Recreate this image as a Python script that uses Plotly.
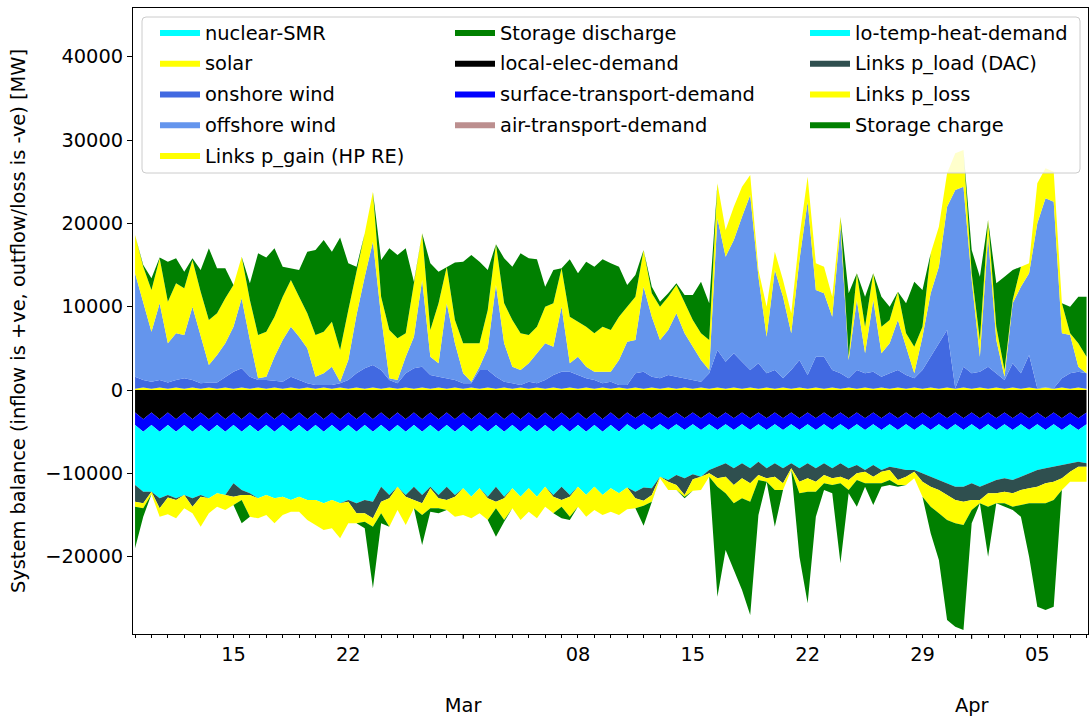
import pandas as pd
import plotly.graph_objects as go

# 12-hourly time stamps (2021-02-09 00:00 .. 2021-04-08 00:00)
times = pd.date_range("2021-02-09 00:00", periods=117, freq="12h")

# ---------------- positive (inflow) series [MW] ----------------
nuclear_smr = [
    0, 0, 0, 0, 0, 0, 0, 0, 0, 0, 0, 0, 0, 0, 0, 0, 0, 0, 0, 0,
    0, 0, 0, 0, 0, 0, 0, 0, 0, 0, 0, 0, 0, 0, 0, 0, 0, 0, 0, 0,
    0, 0, 0, 0, 0, 0, 0, 0, 0, 0, 0, 0, 0, 0, 0, 0, 0, 0, 0, 0,
    0, 0, 0, 0, 0, 0, 0, 0, 0, 0, 0, 0, 0, 0, 0, 0, 0, 0, 0, 0,
    0, 0, 0, 0, 0, 0, 0, 0, 0, 0, 0, 0, 0, 0, 0, 0, 0, 0, 0, 0,
    0, 0, 0, 0, 0, 0, 0, 0, 0, 0, 0, 0, 0, 0, 0, 0, 0,
]
solar = [
    150, 300, 150, 300, 150, 300, 150, 300, 150, 300,
    150, 300, 150, 300, 150, 300, 150, 300, 150, 300,
    150, 300, 150, 300, 150, 300, 150, 300, 150, 300,
    150, 300, 150, 300, 150, 300, 150, 300, 150, 300,
    150, 300, 150, 300, 150, 300, 150, 300, 150, 300,
    150, 300, 150, 300, 150, 300, 150, 300, 150, 300,
    150, 300, 150, 300, 150, 300, 150, 300, 150, 300,
    150, 300, 150, 300, 150, 300, 150, 300, 150, 300,
    150, 300, 150, 300, 150, 300, 150, 300, 150, 300,
    150, 300, 150, 300, 150, 300, 150, 300, 150, 300,
    150, 300, 150, 300, 150, 300, 150, 300, 150, 300,
    150, 300, 150, 300, 150, 300, 150,
]
onshore_wind = [
    1450, 900, 850, 900, 750, 900, 1250, 900, 650, 600,
    750, 1300, 2050, 2300, 1450, 900, 1050, 800, 850, 1300,
    1050, 500, 450, 300, 450, 500, 1050, 1700, 2450, 2700,
    2250, 900, 650, 1700, 2450, 2500, 1650, 1300, 1250, 900,
    650, 500, 2250, 2100, 1450, 700, 650, 300, 850, 500,
    1050, 1500, 2050, 1900, 1650, 1100, 1050, 500, 850, 300,
    450, 1700, 2050, 1300, 1250, 1500, 1450, 1100, 1050, 700,
    1850, 4500, 3250, 4100, 3250, 2100, 3050, 1700, 2250, 1100,
    2250, 3300, 1650, 3700, 3850, 2100, 1850, 1100, 2250, 1700,
    2050, 1300, 1850, 2100, 1650, 1100, 2250, 3700, 5450, 6900,
    50, 2500, 1850, 1900, 2650, 1700, 1050, 2900, 1850, 3900,
    50, 0, 50, 1100, 1850, 1900, 1850,
]
offshore_wind = [
    12400, 9200, 6000, 9200, 4700, 5600, 5200, 8800, 5600, 2100,
    3300, 4000, 5400, 8400, 4400, 200, 400, 2900, 5000, 6000,
    5200, 4200, 1000, 1400, 2200, 200, 2400, 7000, 11000, 14800,
    6400, 200, 400, 2000, 3800, 10400, 2200, 1600, 9000, 4400,
    1200, 200, 400, 2600, 11000, 4600, 2000, 1800, 2200, 3600,
    4400, 3400, 7800, 1000, 2200, 1400, 1000, 1400, 1200, 3000,
    5200, 4000, 10200, 7200, 4600, 5400, 7600, 5400, 4000, 2600,
    400, 15800, 12600, 13600, 17400, 21000, 10400, 4400, 12000, 9800,
    4400, 12000, 20800, 8000, 7600, 6400, 17600, 2200, 8400, 2400,
    8600, 2800, 3600, 6000, 3400, 600, 4000, 7600, 9200, 14800,
    23800, 21600, 11200, 1800, 15600, 4000, 400, 7200, 10400, 9800,
    19800, 22700, 22400, 5400, 4600, 600, 0,
]
links_p_gain = [
    4600, 4400, 5000, 5400, 5000, 6000, 5600, 5600, 5400, 5400,
    5000, 5400, 5000, 5000, 4800, 5200, 5400, 4800, 5200, 5600,
    4800, 4200, 5000, 5000, 5400, 3800, 6000, 5000, 5200, 6000,
    2400, 5800, 5000, 2800, 6600, 5600, 3200, 7200, 4400, 2800,
    3600, 4600, 2800, 4600, 4900, 4800, 5600, 4400, 3400, 3200,
    4400, 5200, 4600, 5600, 4200, 4800, 4600, 5400, 5000, 5200,
    4200, 5200, 4400, 2800, 4000, 4000, 3400, 3600, 3200, 3200,
    3600, 4200, 3200, 4000, 3600, 2400, 800, 3600, 2200, 2000,
    2400, 2800, 3000, 3200, 3200, 2400, 1200, 400, 3200, 3200,
    3200, 3200, 2800, 3400, 1600, 3200, 1200, 4800, 4800, 4000,
    4400, 4400, 800, 2000, 2000, 1600, 800, 400, 2400, 1200,
    4800, 3600, 3600, 3600, 200, 2800, 2000,
]
storage_discharge = [
    0, 200, 1400, 100, 4800, 3000, 2000, 200, 2600, 8600,
    5400, 3600, 0, 0, 2000, 9800, 8900, 8200, 3600, 1400,
    3200, 7400, 10200, 11000, 8400, 13500, 5600, 800, 0, 0,
    4400, 9800, 10000, 10200, 0, 0, 8000, 3800, 0, 6900,
    9800, 10600, 9800, 4800, 0, 5400, 6400, 9600, 9200, 8100,
    2400, 4000, 0, 6900, 5800, 7800, 8000, 8100, 8000, 6000,
    2600, 2600, 0, 800, 600, 400, 200, 1000, 3000, 6200,
    4400, 0, 0, 0, 0, 0, 0, 0, 0, 0,
    0, 0, 0, 0, 0, 0, 0, 7600, 0, 3600,
    0, 3600, 1600, 0, 3600, 7800, 4400, 0, 0, 0,
    0, 0, 2800, 7600, 0, 5200, 11200, 3600, 0, 0,
    0, 0, 0, 0, 3200, 5600, 7200,
]

# ---------------- negative (outflow / loss) series [MW] ----------------
local_elec_demand = [
    -2700, -3500, -2700, -3500, -2700, -3500, -2700, -3500, -2700, -3500,
    -2700, -3500, -2700, -3500, -2700, -3500, -2700, -3500, -2700, -3500,
    -2700, -3500, -2700, -3500, -2700, -3500, -2700, -3500, -2700, -3500,
    -2700, -3500, -2700, -3500, -2700, -3500, -2700, -3500, -2700, -3500,
    -2700, -3500, -2700, -3500, -2700, -3500, -2700, -3500, -2700, -3500,
    -2700, -3500, -2700, -3500, -2700, -3500, -2700, -3500, -2700, -3500,
    -2700, -3400, -2700, -3400, -2700, -3400, -2700, -3400, -2700, -3400,
    -2700, -3400, -2700, -3400, -2700, -3400, -2700, -3400, -2700, -3400,
    -2700, -3400, -2700, -3400, -2700, -3400, -2700, -3400, -2700, -3400,
    -2700, -3400, -2700, -3400, -2700, -3400, -2700, -3400, -2700, -3400,
    -2700, -3400, -2700, -3400, -2700, -3400, -2700, -3400, -2700, -3400,
    -2700, -3400, -2700, -3400, -2700, -3400, -2700,
]
surface_transport_demand = [
    -1500, -1500, -1500, -1500, -1500, -1500, -1500, -1500, -1500, -1500,
    -1500, -1500, -1500, -1500, -1500, -1500, -1500, -1500, -1500, -1500,
    -1500, -1500, -1500, -1500, -1500, -1500, -1500, -1500, -1500, -1500,
    -1500, -1500, -1500, -1500, -1500, -1500, -1500, -1500, -1500, -1500,
    -1500, -1500, -1500, -1500, -1500, -1500, -1500, -1500, -1500, -1500,
    -1500, -1500, -1500, -1500, -1500, -1500, -1500, -1500, -1500, -1500,
    -1400, -1400, -1400, -1400, -1400, -1400, -1400, -1400, -1400, -1400,
    -1400, -1400, -1400, -1400, -1400, -1400, -1400, -1400, -1400, -1400,
    -1400, -1400, -1400, -1400, -1400, -1400, -1400, -1400, -1400, -1400,
    -1400, -1400, -1400, -1400, -1400, -1400, -1400, -1400, -1400, -1400,
    -1400, -1400, -1400, -1400, -1400, -1400, -1400, -1400, -1400, -1400,
    -1400, -1400, -1400, -1400, -1400, -1400, -1400,
]
air_transport_demand = [
    0, 0, 0, 0, 0, 0, 0, 0, 0, 0, 0, 0, 0, 0, 0, 0, 0, 0, 0, 0,
    0, 0, 0, 0, 0, 0, 0, 0, 0, 0, 0, 0, 0, 0, 0, 0, 0, 0, 0, 0,
    0, 0, 0, 0, 0, 0, 0, 0, 0, 0, 0, 0, 0, 0, 0, 0, 0, 0, 0, 0,
    0, 0, 0, 0, 0, 0, 0, 0, 0, 0, 0, 0, 0, 0, 0, 0, 0, 0, 0, 0,
    0, 0, 0, 0, 0, 0, 0, 0, 0, 0, 0, 0, 0, 0, 0, 0, 0, 0, 0, 0,
    0, 0, 0, 0, 0, 0, 0, 0, 0, 0, 0, 0, 0, 0, 0, 0, 0,
]
lo_temp_heat_demand = [
    -7200, -7200, -8000, -8000, -8400, -8000, -8400, -8000, -8400, -8000,
    -8200, -7600, -7000, -7000, -8200, -8000, -8400, -8000, -8600, -8200,
    -8600, -8200, -9000, -8600, -9000, -8600, -9000, -8600, -9000, -8400,
    -7400, -7600, -7400, -7600, -7400, -7600, -7400, -7600, -7400, -7600,
    -7600, -7800, -7600, -7800, -7400, -7800, -7600, -7800, -7600, -7800,
    -7400, -7600, -7400, -7600, -7400, -7600, -7400, -7600, -7600, -7400,
    -7600, -7400, -7600, -7000, -6300, -6000, -6100, -5800, -6000, -5600,
    -5500, -4400, -4700, -4600, -4700, -4600, -4500, -4600, -4700, -4600,
    -4700, -4600, -4700, -4600, -4700, -4600, -4700, -4600, -4900, -4800,
    -4900, -4800, -5100, -4600, -5500, -4800, -5900, -5600, -6700, -6400,
    -7500, -6800, -7100, -6800, -7100, -6000, -6500, -6000, -6300, -5200,
    -5500, -4600, -5100, -4200, -4700, -3800, -4700,
]
links_p_load_dac = [
    -2000, -1400, 0, -1200, -300, -200, 0, -1000, -200, 0,
    0, 0, -1600, -600, -200, 0, 0, 0, 0, 0,
    0, 0, 0, 0, 0, 0, -200, -1200, -1600, -2000,
    -1800, -400, 0, -200, -1600, -1000, -200, -400, -1600, -200,
    0, 0, 0, -200, -1800, -200, 0, 0, 0, 0,
    0, -200, -1600, -200, 0, 0, 0, 0, 0, 0,
    0, -800, -1600, -800, 0, -200, -1200, -2000, -600, 0,
    -400, -1400, -1600, -2000, -1800, -1800, -1600, -1200, -1600, -1800,
    -600, -1600, -1800, -1600, -1400, -1200, -1600, -1400, -1000, -200,
    -1400, -200, -400, -1400, -800, -200, -1000, -1200, -1200, -1400,
    -1600, -1800, -2000, -1600, -1200, -1600, -1600, -1600, -1600, -1800,
    -2000, -1800, -1800, -1600, -1000, -600, -400,
]
links_p_loss = [
    -600, -600, -300, -1000, -2000, -2200, -1600, -800, -3600, -1800,
    -1600, -1800, -1000, -600, -2600, -2400, -2400, -3000, -2200, -1400,
    -1800, -2400, -3000, -3200, -3400, -4200, -2600, -1200, -1000, -1000,
    -1400, -3400, -2800, -3400, -1000, -1400, -2400, -1200, -1200, -2400,
    -3200, -2600, -3000, -2600, -800, -2600, -2400, -2800, -2800, -2600,
    -2400, -2000, -800, -2400, -2400, -2600, -2800, -2400, -2800, -2600,
    -2600, -1200, -600, -800, -200, -1000, -600, -200, -1400, -1600,
    -400, -1000, -2000, -2200, -2400, -2200, -600, -400, -1600, -800,
    -200, -1400, -1600, -1200, -1000, -800, -800, -1200, -800, -1400,
    -800, -1400, -1200, -600, -1000, -800, -1800, -2400, -2800, -3000,
    -2800, -2800, -1200, -400, -1600, -1200, -1400, -1600, -1800, -1800,
    -2000, -2400, -2200, -1400, -1200, -1800, -1800,
]
storage_charge = [
    -5000, -1000, 0, 0, 0, 0, 0, 0, 0, 0,
    0, 0, 0, -2800, 0, 0, 0, 0, 0, 0,
    0, 0, 0, 0, 0, 0, 0, 0, -800, -7400,
    -1200, 0, 0, 0, 0, -3600, -400, -600, 0, 0,
    0, 0, 0, 0, -3400, -200, 0, 0, 0, 0,
    0, 0, -1400, -400, 0, 0, 0, 0, 0, 0,
    0, 0, -2400, 0, 0, 0, 0, -200, 0, 0,
    0, -13200, -6800, -8000, -11000, -13600, -4200, 0, -4400, 0,
    0, -7600, -13400, -3000, -800, -1000, -9600, -400, -3200, -400,
    -2600, -400, -600, -200, 0, 0, 0, -3200, -5600, -12000,
    -12400, -12600, -1600, 0, -6000, 0, -400, -400, -1400, -6400,
    -12400, -12800, -12800, 0, 0, 0, 0,
]

# tick positions / labels
tick_dates = ["2021-02-15", "2021-02-22", "2021-03-01", "2021-03-08", "2021-03-15",
              "2021-03-22", "2021-03-29", "2021-04-01", "2021-04-05"]
tick_labels = ["15", "22", "<br><br>Mar", "08", "15", "22", "29", "<br><br>Apr", "05"]
month_starts = ["2021-03-01", "2021-04-01"]
y_ticks = [-20000, -10000, 0, 10000, 20000, 30000, 40000]
y_tick_labels = ["\u221220000", "\u221210000", "0", "10000", "20000", "30000", "40000"]

FONT = "DejaVu Sans"
FS = 19.4

pos_series = [
    ("nuclear-SMR", nuclear_smr, "#00FFFF", "legend"),
    ("solar", solar, "#FFFF00", "legend"),
    ("onshore wind", onshore_wind, "#4169E1", "legend"),
    ("offshore wind", offshore_wind, "#6495ED", "legend"),
    ("Links p_gain (HP RE)", links_p_gain, "#FFFF00", "legend"),
    ("Storage discharge", storage_discharge, "#008000", "legend2"),
]
neg_series = [
    ("local-elec-demand", local_elec_demand, "#000000", "legend2"),
    ("surface-transport-demand", surface_transport_demand, "#0000FF", "legend2"),
    ("air-transport-demand", air_transport_demand, "#BC8F8F", "legend2"),
    ("lo-temp-heat-demand", lo_temp_heat_demand, "#00FFFF", "legend3"),
    ("Links p_load (DAC)", links_p_load_dac, "#2F4F4F", "legend3"),
    ("Links p_loss", links_p_loss, "#FFFF00", "legend3"),
    ("Storage charge", storage_charge, "#008000", "legend3"),
]

fig = go.Figure()
for group, series in (("pos", pos_series), ("neg", neg_series)):
    for name, vals, col, leg in series:
        fig.add_trace(go.Scatter(
            x=times, y=vals, name=name, mode="lines",
            stackgroup=group, line=dict(width=0, color=col),
            fillcolor=col, legend=leg, legendgroup=name,
            hoverinfo="x+y+name",
        ))

W, H = 1089, 717
L, R, T, B = 133, 1, 8, 83
pw, ph = W - L - R, H - T - B


def px_x(p):
    return (p - L) / pw


def px_y(p):
    return (H - B - p) / ph


legend_common = dict(
    orientation="v", xanchor="left", yanchor="top",
    bgcolor="rgba(0,0,0,0)", borderwidth=0,
    font=dict(family=FONT, size=FS, color="black"),
    tracegroupgap=2.5, itemwidth=40, itemclick=False, itemdoubleclick=False,
)

# legend frame (rounded, semi-transparent like matplotlib)
fx0, fx1, fy0, fy1 = 142, 1080, 17, 173
rx, ry = 4 / pw, 4 / ph
x0, x1, y0, y1 = px_x(fx0), px_x(fx1), px_y(fy1), px_y(fy0)
frame_path = (
    f"M {x0 + rx},{y0} L {x1 - rx},{y0} Q {x1},{y0} {x1},{y0 + ry} "
    f"L {x1},{y1 - ry} Q {x1},{y1} {x1 - rx},{y1} "
    f"L {x0 + rx},{y1} Q {x0},{y1} {x0},{y1 - ry} "
    f"L {x0},{y0 + ry} Q {x0},{y0} {x0 + rx},{y0} Z"
)
shapes = [dict(type="path", xref="paper", yref="paper", path=frame_path,
               fillcolor="rgba(255,255,255,0.8)",
               line=dict(color="#cccccc", width=1), layer="above")]
for d in month_starts:
    shapes.append(dict(type="line", xref="x", yref="paper", x0=d, x1=d,
                       y0=0, y1=-5 / ph, line=dict(color="black", width=1)))

fig.update_layout(
    width=W, height=H,
    margin=dict(l=L, r=R, t=T, b=B, autoexpand=False),
    paper_bgcolor="white", plot_bgcolor="white",
    font=dict(family=FONT, size=FS, color="black"),
    showlegend=True,
    legend=dict(legend_common, x=px_x(155), y=px_y(13)),
    legend2=dict(legend_common, x=px_x(450), y=px_y(13)),
    legend3=dict(legend_common, x=px_x(805), y=px_y(13)),
    shapes=shapes,
    hovermode="x",
)
fig.update_xaxes(
    type="date",
    range=["2021-02-08 21:00", "2021-04-08 02:10"],
    tickmode="array", tickvals=tick_dates, ticktext=tick_labels,
    ticks="outside", ticklen=3, tickwidth=1, tickcolor="black",
    minor=dict(ticks="outside", ticklen=3, tickwidth=1, tickcolor="black",
               dtick=86400000, tick0="2021-02-09", showgrid=False),
    showgrid=False, zeroline=False,
    showline=True, linecolor="black", linewidth=1, mirror=True,
    tickfont=dict(family=FONT, size=FS, color="black"),
)
fig.update_yaxes(
    range=[-29280, 45840],
    tickmode="array", tickvals=y_ticks, ticktext=y_tick_labels,
    ticks="outside", ticklen=5, tickwidth=1, tickcolor="black",
    showgrid=False, zeroline=False,
    showline=True, linecolor="black", linewidth=1, mirror=True,
    tickfont=dict(family=FONT, size=FS, color="black"),
    title=dict(text="System balance (inflow is +ve, outflow/loss is -ve) [MW]",
               font=dict(family=FONT, size=FS, color="black"), standoff=14),
)

fig.write_html("out.html")
